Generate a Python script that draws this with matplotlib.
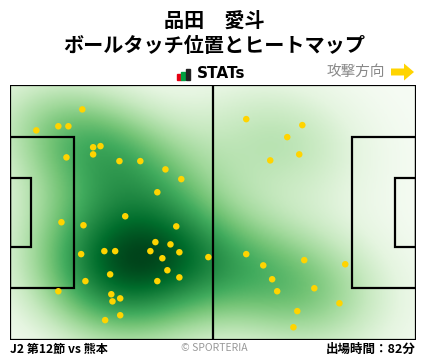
import numpy as np
import matplotlib
matplotlib.use('Agg')
import matplotlib.pyplot as plt
from matplotlib.patches import Rectangle, FancyArrow

plt.rcParams['font.family'] = ['Noto Sans CJK JP', 'DejaVu Sans']

PITCH_L = 105.0
PITCH_W = 68.0

title_name = '品田　愛斗'
title_sub = 'ボールタッチ位置とヒートマップ'
match_text = 'J2 第12節 vs 熊本'
minutes_text = '出場時間：82分'

# ball touch positions (m), x toward attack direction, y from bottom touchline
touch_x = [18.7, 6.8, 12.5, 15.1, 21.5, 23.4, 21.5, 14.6, 28.3, 33.7, 40.2, 44.3, 38.1,
           29.8, 13.3, 19.0, 43.0, 37.6, 41.5, 18.4, 24.4, 27.2, 36.3, 43.8, 39.4, 51.3,
           25.9, 40.7, 43.8, 19.5, 38.1, 12.5, 26.2, 28.5, 26.5, 28.5, 24.6,
           61.1, 75.6, 71.7, 74.8, 67.3, 61.1, 65.5, 76.1, 86.7, 67.8, 69.1, 78.7,
           85.2, 74.3, 73.3]
touch_y = [61.5, 55.9, 57.0, 57.0, 51.4, 51.7, 49.5, 48.7, 47.7, 47.7, 45.5, 42.9, 39.4,
           33.0, 31.4, 30.6, 30.3, 26.1, 25.5, 22.9, 23.7, 23.7, 23.7, 23.4, 21.8, 22.1,
           17.5, 18.6, 16.7, 15.7, 15.7, 13.0, 12.2, 11.1, 10.3, 6.6, 5.3,
           58.9, 57.3, 54.1, 49.5, 47.9, 22.9, 19.9, 21.3, 20.2, 16.2, 13.0, 13.8,
           9.8, 7.7, 3.4]

pts = np.vstack([touch_x, touch_y])

# gaussian kde, a bit wider than scott's rule
n = pts.shape[1]
factor = 1.25 * n ** (-1.0 / 6)
cov = np.cov(pts) * factor ** 2
inv = np.linalg.inv(cov)
gx, gy = np.meshgrid(np.linspace(0, PITCH_L, 300), np.linspace(0, PITCH_W, 200))
dens = np.zeros_like(gx)
for i in range(n):
    dx = gx - pts[0, i]
    dy = gy - pts[1, i]
    dens += np.exp(-0.5 * (inv[0, 0] * dx * dx + 2 * inv[0, 1] * dx * dy + inv[1, 1] * dy * dy))

fig = plt.figure(figsize=(4.28, 3.59), dpi=100)
ax = fig.add_axes([10 / 428, 19 / 359, 406 / 428, 255 / 359])
ax.imshow(dens, extent=[0, PITCH_L, 0, PITCH_W], origin='lower', cmap='Greens',
          vmin=0, vmax=dens.max(), aspect='auto', interpolation='bilinear', zorder=0)

lw = 1.6
ax.add_patch(Rectangle((0, 0), PITCH_L, PITCH_W, fill=False, lw=lw, ec='black', zorder=2))
ax.plot([PITCH_L / 2, PITCH_L / 2], [0, PITCH_W], color='black', lw=lw, zorder=2)
for x0, sgn in [(0, 1), (PITCH_L, -1)]:
    ax.add_patch(Rectangle((x0, PITCH_W / 2 - 20.16), sgn * 16.5, 40.32, fill=False,
                           lw=lw, ec='black', zorder=2))
    ax.add_patch(Rectangle((x0, PITCH_W / 2 - 9.16), sgn * 5.5, 18.32, fill=False,
                           lw=lw, ec='black', zorder=2))

ax.scatter(touch_x, touch_y, s=22, color='#FFD400', edgecolors='none', zorder=3)
ax.set_xlim(0, PITCH_L)
ax.set_ylim(0, PITCH_W)
ax.axis('off')

# header
fig.text(214 / 428, 1 - 20 / 359, title_name, ha='center', va='center',
         fontsize=14.5, fontweight='bold')
fig.text(214 / 428, 1 - 46 / 359, title_sub, ha='center', va='center',
         fontsize=14.5, fontweight='bold')

# STATs logo
for x0, h, c in [(177, 6, '#e60012'), (181, 8, '#00a040'), (186, 11, '#222222')]:
    fig.patches.append(Rectangle((x0 / 428, 1 - 80 / 359), 4 / 428, h / 359,
                                 transform=fig.transFigure, color=c))
fig.text(197 / 428, 1 - 74 / 359, 'STATs', ha='left', va='center', fontsize=11,
         fontweight='bold', family=['DejaVu Sans'])

fig.text(385 / 428, 1 - 72 / 359, '攻撃方向', ha='right', va='center', fontsize=10.5,
         color='#888888')
fig.patches.append(FancyArrow(391 / 428, 1 - 72 / 359, 23 / 428, 0, width=7 / 359,
                              head_width=17 / 359, head_length=10 / 428,
                              length_includes_head=True, transform=fig.transFigure,
                              color='#FFD400', lw=0))

# footer
fig.text(10 / 428, 1 - 349 / 359, match_text, ha='left', va='center', fontsize=8.7,
         fontweight='bold')
fig.text(214 / 428, 1 - 348 / 359, '© SPORTERIA', ha='center', va='center', fontsize=7.5,
         color='#999999')
fig.text(416 / 428, 1 - 349 / 359, minutes_text, ha='right', va='center', fontsize=9,
         fontweight='bold')

fig.savefig('out.png', dpi=100)
